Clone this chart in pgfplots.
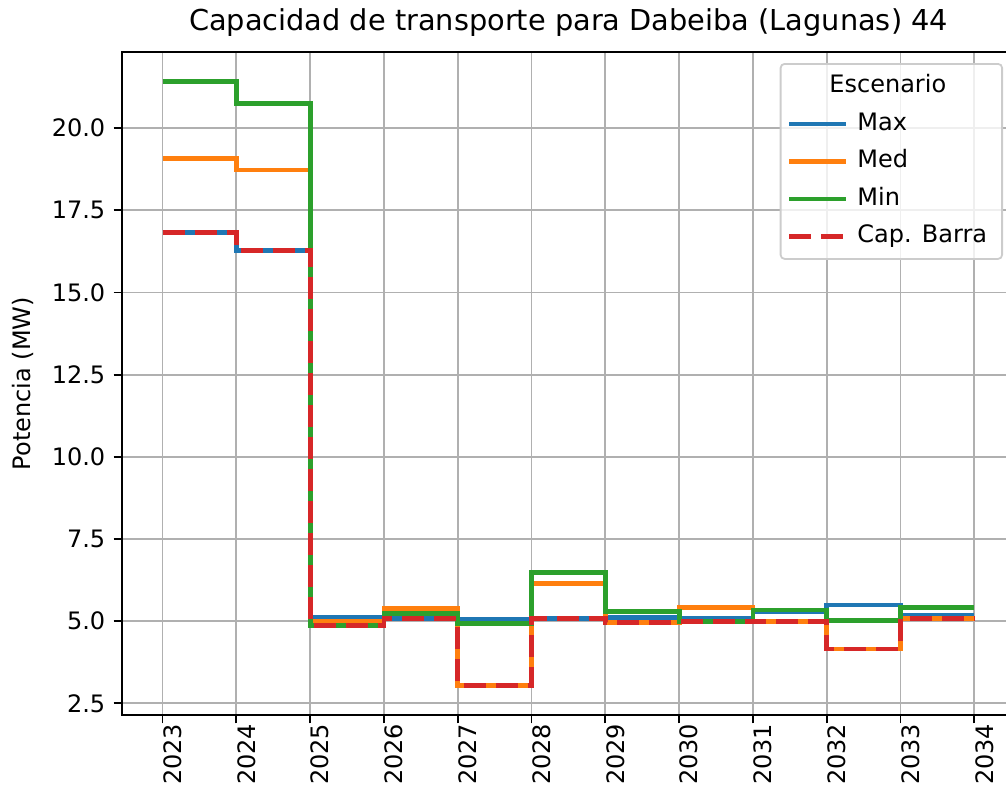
\documentclass[border=0pt]{standalone}
\usepackage{fontspec}
\setmainfont{DejaVu Sans}
\usepackage{pgfplots}
\usepackage{pgfplotstable}
\pgfplotsset{compat=1.18}
\definecolor{tabblue}{HTML}{1F77B4}
\definecolor{taborange}{HTML}{FF7F0E}
\definecolor{tabgreen}{HTML}{2CA02C}
\definecolor{tabred}{HTML}{D62728}
\definecolor{gridgray}{HTML}{B0B0B0}
\definecolor{legedge}{HTML}{CCCCCC}
\pgfplotstableread{
year max med min cap
2023 16.82 19.07 21.42 16.82
2024 16.27 18.73 20.76 16.27
2025 5.10 5.00 4.86 4.86
2026 5.08 5.38 5.24 5.08
2027 5.06 3.05 4.92 3.05
2028 5.08 6.14 6.49 5.08
2029 5.12 4.97 5.29 4.97
2030 5.09 5.42 4.98 4.98
2031 5.30 5.00 5.34 5.00
2032 5.49 4.15 5.02 4.15
2033 5.19 5.08 5.41 5.08
2034 5.19 5.08 5.41 5.08
}\data
\begin{document}
\begin{tikzpicture}
\begin{axis}[
  name=ax, at={(0,0)}, anchor=south west,
  scale only axis, width=446.5pt, height=331.5pt,
  xmin=2022.45, xmax=2034.55, ymin=2.144, ymax=22.32,
  xtick={2023,...,2034}, ytick={2.5,5,...,20},
  /pgf/number format/assume math mode=true,
  font=\fontsize{12}{14.4}\selectfont,
  xticklabel={\pgfmathprintnumber[1000 sep={}]{\tick}},
  yticklabel={\pgfmathprintnumber[fixed,fixed zerofill,precision=1]{\tick}},
  tick align=outside, major tick length=4.2pt,
  tick style={black, line width=0.9pt},
  xtick pos=bottom, ytick pos=left,
  axis line style={black, line width=0.9pt},
  grid=major, major grid style={gridgray, line width=0.9pt},
  xticklabel style={rotate=90, anchor=east, inner sep=0pt, yshift=-5pt},
  yticklabel style={anchor=east, inner sep=0pt, xshift=-4pt},
  title={Capacidad de transporte para Dabeiba (Lagunas) 44},
  every axis title/.style={at={(axis description cs:0.5,1)}, anchor=base, yshift=11pt, inner sep=0pt, font=\fontsize{14.4}{17}\selectfont},
  ylabel={Potencia (MW)},
  every axis y label/.style={at={(axis description cs:0,0.5)}, xshift=-45.6pt, rotate=90, anchor=base, inner sep=0pt},
  legend image code/.code={\draw[#1] (0pt,0pt) -- (28.5pt,0pt);},
  legend cell align=left,
  legend style={at={(1,1)}, anchor=north east, xshift=-6pt, yshift=-5.5pt,
    draw=legedge, line width=0.9pt, rounded corners=2pt, fill=white, fill opacity=0.8, text opacity=1, draw opacity=1,
    inner xsep=3pt, inner ysep=3.5pt, row sep=3.25pt, column sep=0pt,
    nodes={text height=9pt, text depth=2.5pt, inner ysep=2pt, inner xsep=4.5pt},
    font=\fontsize{12}{14.4}\selectfont},
]
\addlegendimage{empty legend}
\addlegendentry{\hspace*{-14pt}Escenario}
\addplot[const plot, tabblue, line width=2.4pt] table[x=year, y=max] {\data};
\addlegendentry{Max}
\addplot[const plot, taborange, line width=2.4pt] table[x=year, y=med] {\data};
\addlegendentry{Med}
\addplot[const plot, tabgreen, line width=2.4pt] table[x=year, y=min] {\data};
\addlegendentry{Min}
\addplot[const plot, tabred, line width=2.4pt, dash pattern=on 11pt off 5pt] table[x=year, y=cap] {\data};
\addlegendentry{Cap. Barra}
\end{axis}
\pgfresetboundingbox
\path[use as bounding box] (-61pt,-42.5pt) rectangle (442pt,357.5pt);
\end{tikzpicture}
\end{document}
